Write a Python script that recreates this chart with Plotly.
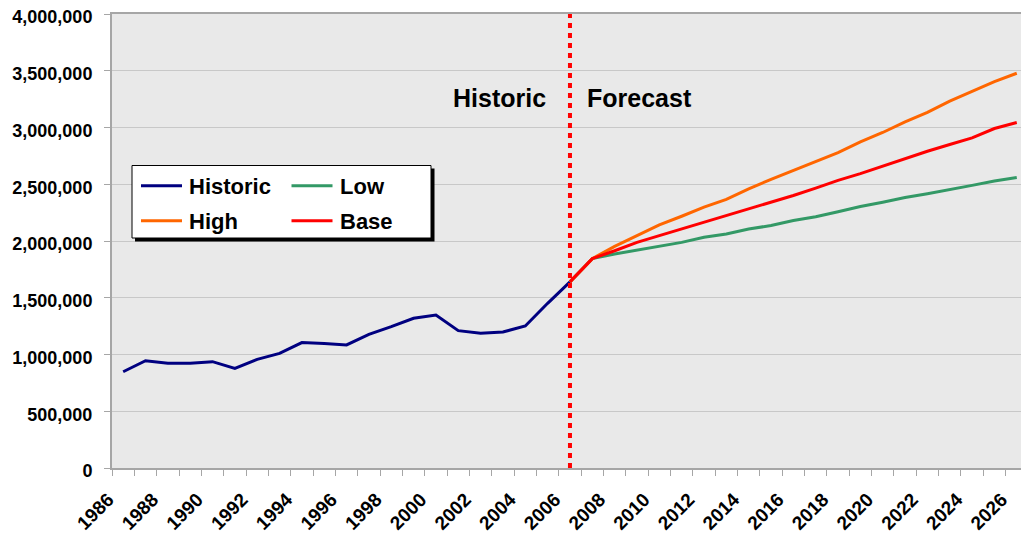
import plotly.graph_objects as go

# ---------------- data ----------------
hist_years = list(range(1986, 2007))
historic = [848000, 945000, 922000, 922000, 937000, 878000, 957000, 1010000, 1105000,
            1098000, 1084000, 1178000, 1245000, 1319000, 1348000, 1210000, 1188000,
            1198000, 1251000, 1451000, 1640000]

fc_years = list(range(2006, 2027))
high = [1640000, 1845000, 1953000, 2047000, 2142000, 2218000, 2298000, 2366000, 2460000,
        2543000, 2622000, 2697000, 2779000, 2873000, 2956000, 3050000, 3133000, 3233000,
        3316000, 3404000, 3478000]
base = [1640000, 1845000, 1914000, 1988000, 2047000, 2106000, 2159000, 2218000, 2283000,
        2342000, 2401000, 2466000, 2534000, 2593000, 2661000, 2726000, 2791000, 2850000,
        2909000, 2991000, 3044000]
low = [1640000, 1845000, 1885000, 1920000, 1959000, 1988000, 2033000, 2062000, 2106000,
       2136000, 2180000, 2214000, 2258000, 2304000, 2342000, 2383000, 2416000, 2451000,
       2490000, 2528000, 2560000]

label_years = list(range(1986, 2027, 2))
y_ticks = [0, 500000, 1000000, 1500000, 2000000, 2500000, 3000000, 3500000, 4000000]
divider_year = 2006

series_names = ["Historic", "Low", "High", "Base"]
colors = {"Historic": "#000080", "Low": "#339966", "High": "#FF6600", "Base": "#FF0000"}

# ---------------- figure ----------------
W, H = 1021, 533
ML, MR, MT, MB = 112, 0, 14, 65
PW, PH = W - ML - MR, H - MT - MB

FONT = "Liberation Sans, Arial, sans-serif"

fig = go.Figure()
fig.add_trace(go.Scatter(x=hist_years, y=historic, mode="lines", name="Historic",
                         line=dict(color=colors["Historic"], width=3), showlegend=False))
fig.add_trace(go.Scatter(x=fc_years, y=low, mode="lines", name="Low",
                         line=dict(color=colors["Low"], width=3), showlegend=False))
fig.add_trace(go.Scatter(x=fc_years, y=high, mode="lines", name="High",
                         line=dict(color=colors["High"], width=3), showlegend=False))
fig.add_trace(go.Scatter(x=fc_years, y=base, mode="lines", name="Base",
                         line=dict(color=colors["Base"], width=3), showlegend=False))

def px(x):
    return (x - ML) / PW

def py(y):
    return (H - MB - y) / PH

shapes = []
# divider
shapes.append(dict(type="line", xref="x", yref="paper", x0=divider_year, x1=divider_year,
                   y0=0, y1=1, line=dict(color="#FF0000", width=4, dash="5px,5px"),
                   layer="above"))
# legend box with shadow
shapes.append(dict(type="rect", xref="paper", yref="paper",
                   x0=px(135), x1=px(434.5), y0=py(241.5), y1=py(168.5),
                   fillcolor="#000000", line=dict(width=0), layer="above"))
shapes.append(dict(type="rect", xref="paper", yref="paper",
                   x0=px(132), x1=px(431), y0=py(238), y1=py(165.5),
                   fillcolor="#FFFFFF", line=dict(color="#000000", width=1), layer="above"))

annotations = []
legend_pos = {"Historic": (141, 185.7), "Low": (291.5, 185.7),
              "High": (141, 220.7), "Base": (291.5, 220.7)}
for name in series_names:
    lx, ly = legend_pos[name]
    shapes.append(dict(type="line", xref="paper", yref="paper",
                       x0=px(lx), x1=px(lx + 41), y0=py(ly), y1=py(ly),
                       line=dict(color=colors[name], width=3), layer="above"))
    annotations.append(dict(xref="paper", yref="paper", x=px(lx + 46), y=py(ly + 1),
                            xanchor="left", yanchor="middle", showarrow=False,
                            text=name, font=dict(family=FONT, size=22, color="#000000",
                                                  weight="bold")))

annotations.append(dict(xref="paper", yref="paper", x=px(499), y=py(98.5),
                        xanchor="center", yanchor="middle", showarrow=False,
                        text="Historic", font=dict(family=FONT, size=25, color="#000000",
                                                   weight="bold")))
annotations.append(dict(xref="paper", yref="paper", x=px(639.5), y=py(98.5),
                        xanchor="center", yanchor="middle", showarrow=False,
                        text="Forecast", font=dict(family=FONT, size=25, color="#000000",
                                                   weight="bold")))

fig.update_layout(
    width=W, height=H,
    margin=dict(l=ML, r=MR, t=MT, b=MB, pad=0),
    paper_bgcolor="#FFFFFF",
    plot_bgcolor="#E9E9E9",
    shapes=shapes,
    annotations=annotations,
    showlegend=False,
    font=dict(family=FONT, color="#000000"),
)

fig.update_xaxes(
    range=[1985.5, 1985.5 + PW / 22.34],
    tickmode="array", tickvals=label_years, ticktext=[str(y) for y in label_years],
    ticks="", tickangle=-45, ticklabeloverflow="allow",
    ticklabelshift=-15, ticklabelstandoff=11,
    tickfont=dict(family=FONT, size=19, color="#000000", weight="bold"),
    showgrid=False, zeroline=False, automargin=False,
    showline=True, linecolor="#A6A6A6", linewidth=2, mirror=True,
    minor=dict(tickmode="linear", tick0=1985.5, dtick=1, ticks="outside", ticklen=6,
               tickcolor="#A6A6A6", tickwidth=1, showgrid=False),
)
fig.update_yaxes(
    range=[0, 4000000],
    tickmode="array", tickvals=y_ticks, tickformat=",d",
    ticks="outside", ticklen=6, tickcolor="#A6A6A6",
    tickfont=dict(family=FONT, size=18, color="#000000", weight="bold"),
    ticklabelstandoff=8, ticklabelshift=3, automargin=False,
    showgrid=True, gridcolor="#C8C8C8", gridwidth=1,
    zeroline=False, showline=True, linecolor="#A6A6A6", linewidth=2,
)

fig.write_html("out.html")
